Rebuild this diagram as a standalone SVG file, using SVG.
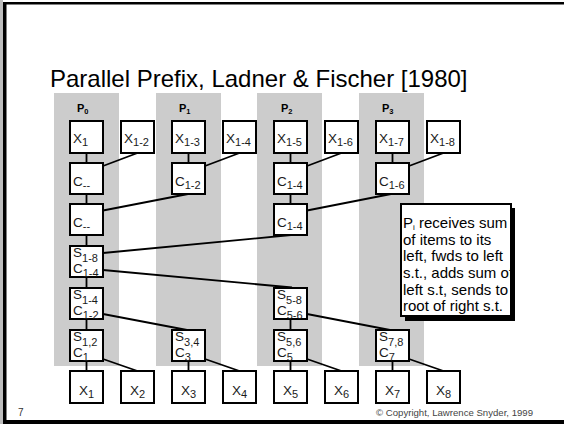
<svg xmlns="http://www.w3.org/2000/svg" width="564" height="424" viewBox="0 0 564 424">
  <style>
    .band{fill:#cccccc}
    .box{fill:#fff;stroke:#000;stroke-width:2}
    .lbl{font-family:"Liberation Sans",Arial,sans-serif;font-size:13.5px;fill:#1a1a1a}
    .sub{font-size:11px}
    .mid{text-anchor:middle}
    .plab{font-family:"Liberation Sans",Arial,sans-serif;font-size:11px;font-weight:bold;fill:#000}
    .psub{font-size:7.5px}
    .wire{stroke:#000;stroke-width:1.8;fill:none}
    .note{font-family:"Liberation Sans",Arial,sans-serif;font-size:15px;fill:#000}
  </style>
  <defs>
    <clipPath id="noteClip"><rect x="402" y="205" width="108" height="110"/></clipPath>
  </defs>

  <!-- slide frame -->
  <rect x="0" y="0" width="564" height="424" fill="#fff"/>
  <rect x="0" y="0" width="3" height="424" fill="#bdbdbd"/>
  <rect x="3" y="2" width="3.5" height="422" fill="#000"/>
  <rect x="3" y="2" width="561" height="2.5" fill="#000"/>
  <rect x="3" y="420" width="561" height="4" fill="#000"/>

  <text x="50" y="87" font-family="'Liberation Sans',Arial,sans-serif" font-size="24" fill="#000">Parallel Prefix, Ladner &amp; Fischer [1980]</text>

  <!-- processor columns -->
  <g id="processors">
    <rect class="band" x="54" y="93" width="65" height="273"/>
    <rect class="band" x="156" y="93" width="65" height="273"/>
    <rect class="band" x="257" y="93" width="65" height="273"/>
    <rect class="band" x="359" y="93" width="65" height="273"/>
    <text class="plab" x="77" y="112">P<tspan class="psub" dy="2">0</tspan></text>
    <text class="plab" x="179" y="112">P<tspan class="psub" dy="2">1</tspan></text>
    <text class="plab" x="281" y="112">P<tspan class="psub" dy="2">2</tspan></text>
    <text class="plab" x="382" y="112">P<tspan class="psub" dy="2">3</tspan></text>
  </g>

  <!-- connectors -->
  <g id="connectors">
    <!-- column verticals -->
    <path class="wire" d="M86.5,153V163 M86.5,194V204 M86.5,235V246 M86.5,277V288 M86.5,319V330 M86.5,361V371"/>
    <path class="wire" d="M188.5,153V163 M188.5,361V371"/>
    <path class="wire" d="M290.5,153V163 M290.5,194V204 M290.5,319V330 M290.5,361V371"/>
    <path class="wire" d="M392.5,153V163 M392.5,361V371"/>
    <!-- up-sweep -->
    <path class="wire" d="M137.5,153L103,166 M239.5,153L205,166 M341.5,153L307,166 M443.5,153L409,166"/>
    <path class="wire" d="M188,194L103,210.5 M391,194L307,210.5"/>
    <path class="wire" d="M291,235L103,253"/>
    <!-- down-sweep -->
    <path class="wire" d="M103,270L292,287.5"/>
    <path class="wire" d="M103,314L187,330 M307,314L390,330"/>
    <path class="wire" d="M103,359L137.5,371 M205,359L239.5,371 M307,359L341.5,371 M409,359L443.5,371"/>
  </g>

  <!-- row 1: inputs -->
  <g id="x1"><rect class="box" x="70" y="121" width="33" height="32"/><text class="lbl" x="73" y="143">X<tspan class="sub" dy="3">1</tspan></text></g>
  <g id="x1-2"><rect class="box" x="121" y="121" width="33" height="32"/><text class="lbl" x="124" y="143">X<tspan class="sub" dy="3">1-2</tspan></text></g>
  <g id="x1-3"><rect class="box" x="172" y="121" width="33" height="32"/><text class="lbl" x="175" y="143">X<tspan class="sub" dy="3">1-3</tspan></text></g>
  <g id="x1-4"><rect class="box" x="223" y="121" width="33" height="32"/><text class="lbl" x="226" y="143">X<tspan class="sub" dy="3">1-4</tspan></text></g>
  <g id="x1-5"><rect class="box" x="274" y="121" width="33" height="32"/><text class="lbl" x="277" y="143">X<tspan class="sub" dy="3">1-5</tspan></text></g>
  <g id="x1-6"><rect class="box" x="325" y="121" width="33" height="32"/><text class="lbl" x="328" y="143">X<tspan class="sub" dy="3">1-6</tspan></text></g>
  <g id="x1-7"><rect class="box" x="376" y="121" width="33" height="32"/><text class="lbl" x="379" y="143">X<tspan class="sub" dy="3">1-7</tspan></text></g>
  <g id="x1-8"><rect class="box" x="427" y="121" width="33" height="32"/><text class="lbl" x="430" y="143">X<tspan class="sub" dy="3">1-8</tspan></text></g>

  <!-- row 2 -->
  <g id="c0-r2"><rect class="box" x="70" y="163" width="33" height="31"/><text class="lbl" x="73" y="186">C<tspan class="sub" dy="3">--</tspan></text></g>
  <g id="c1-r2"><rect class="box" x="172" y="163" width="33" height="31"/><text class="lbl" x="175" y="186">C<tspan class="sub" dy="3">1-2</tspan></text></g>
  <g id="c2-r2"><rect class="box" x="274" y="163" width="33" height="31"/><text class="lbl" x="277" y="186">C<tspan class="sub" dy="3">1-4</tspan></text></g>
  <g id="c3-r2"><rect class="box" x="376" y="163" width="33" height="31"/><text class="lbl" x="379" y="186">C<tspan class="sub" dy="3">1-6</tspan></text></g>

  <!-- row 3 -->
  <g id="c0-r3"><rect class="box" x="70" y="204" width="33" height="31"/><text class="lbl" x="73" y="227">C<tspan class="sub" dy="3">--</tspan></text></g>
  <g id="c2-r3"><rect class="box" x="274" y="204" width="33" height="31"/><text class="lbl" x="277" y="227">C<tspan class="sub" dy="3">1-4</tspan></text></g>

  <!-- row 4 -->
  <g id="s0-r4"><rect class="box" x="70" y="246" width="33" height="31"/>
    <text class="lbl" x="73" y="257">S<tspan class="sub" dy="5">1-8</tspan></text>
    <text class="lbl" x="73" y="273">C<tspan class="sub" dy="4">1-4</tspan></text></g>

  <!-- row 5 -->
  <g id="s0-r5"><rect class="box" x="70" y="288" width="33" height="31"/>
    <text class="lbl" x="73" y="299">S<tspan class="sub" dy="5">1-4</tspan></text>
    <text class="lbl" x="73" y="315">C<tspan class="sub" dy="4">1-2</tspan></text></g>
  <g id="s2-r5"><rect class="box" x="274" y="288" width="33" height="31"/>
    <text class="lbl" x="277" y="299">S<tspan class="sub" dy="5">5-8</tspan></text>
    <text class="lbl" x="277" y="315">C<tspan class="sub" dy="4">5-6</tspan></text></g>

  <!-- row 6 -->
  <g id="s0-r6"><rect class="box" x="70" y="330" width="33" height="31"/>
    <text class="lbl" x="73" y="341">S<tspan class="sub" dy="5">1,2</tspan></text>
    <text class="lbl" x="73" y="357">C<tspan class="sub" dy="4">1</tspan></text></g>
  <g id="s1-r6"><rect class="box" x="172" y="330" width="33" height="31"/>
    <text class="lbl" x="175" y="341">S<tspan class="sub" dy="5">3,4</tspan></text>
    <text class="lbl" x="175" y="357">C<tspan class="sub" dy="4">3</tspan></text></g>
  <g id="s2-r6"><rect class="box" x="274" y="330" width="33" height="31"/>
    <text class="lbl" x="277" y="341">S<tspan class="sub" dy="5">5,6</tspan></text>
    <text class="lbl" x="277" y="357">C<tspan class="sub" dy="4">5</tspan></text></g>
  <g id="s3-r6"><rect class="box" x="376" y="330" width="33" height="31"/>
    <text class="lbl" x="379" y="341">S<tspan class="sub" dy="5">7,8</tspan></text>
    <text class="lbl" x="379" y="357">C<tspan class="sub" dy="4">7</tspan></text></g>

  <!-- row 7: results -->
  <g id="y1"><rect class="box" x="70" y="371" width="33" height="32"/><text class="lbl mid" x="86.5" y="394.5">X<tspan class="sub" dy="3">1</tspan></text></g>
  <g id="y2"><rect class="box" x="121" y="371" width="33" height="32"/><text class="lbl mid" x="137.5" y="394.5">X<tspan class="sub" dy="3">2</tspan></text></g>
  <g id="y3"><rect class="box" x="172" y="371" width="33" height="32"/><text class="lbl mid" x="188.5" y="394.5">X<tspan class="sub" dy="3">3</tspan></text></g>
  <g id="y4"><rect class="box" x="223" y="371" width="33" height="32"/><text class="lbl mid" x="239.5" y="394.5">X<tspan class="sub" dy="3">4</tspan></text></g>
  <g id="y5"><rect class="box" x="274" y="371" width="33" height="32"/><text class="lbl mid" x="290.5" y="394.5">X<tspan class="sub" dy="3">5</tspan></text></g>
  <g id="y6"><rect class="box" x="325" y="371" width="33" height="32"/><text class="lbl mid" x="341.5" y="394.5">X<tspan class="sub" dy="3">6</tspan></text></g>
  <g id="y7"><rect class="box" x="376" y="371" width="33" height="32"/><text class="lbl mid" x="392.5" y="394.5">X<tspan class="sub" dy="3">7</tspan></text></g>
  <g id="y8"><rect class="box" x="427" y="371" width="33" height="32"/><text class="lbl mid" x="443.5" y="394.5">X<tspan class="sub" dy="3">8</tspan></text></g>

  <!-- explanatory note with drop shadow -->
  <g id="note">
    <rect x="405" y="208" width="110" height="113" fill="#000"/>
    <rect x="401" y="204" width="110" height="112" fill="#fff" stroke="#000" stroke-width="2"/>
    <g clip-path="url(#noteClip)">
      <text class="note" x="403" y="228">P<tspan font-size="8" dy="1.5">i</tspan><tspan dy="-1.5"> receives sum</tspan></text>
      <text class="note" x="403" y="244.7">of items to its</text>
      <text class="note" x="403" y="261.3">left, fwds to left</text>
      <text class="note" x="403" y="278">s.t., adds sum of</text>
      <text class="note" x="403" y="294.7">left s.t, sends to</text>
      <text class="note" x="403" y="311.3">root of right s.t.</text>
    </g>
  </g>

  <text x="18" y="416" font-family="'Liberation Sans',Arial,sans-serif" font-size="10" fill="#333">7</text>
  <text x="533" y="416" text-anchor="end" font-family="'Liberation Sans',Arial,sans-serif" font-size="9.6" fill="#444">© Copyright, Lawrence Snyder, 1999</text>
</svg>
